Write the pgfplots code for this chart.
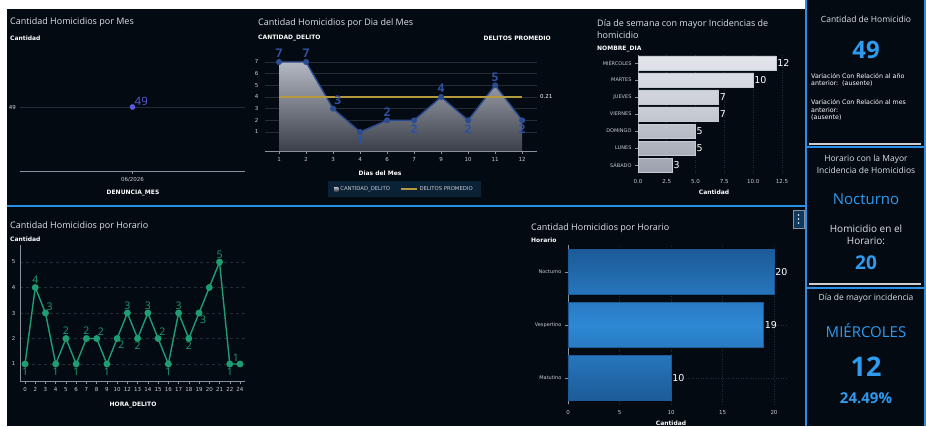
\documentclass[border=0pt]{standalone}
\usepackage{fontspec}
\usepackage{pgfplots}
\pgfplotsset{compat=1.18}
\setmainfont{Open Sans}
\newfontfamily\lbl{DejaVu Sans}
\newfontfamily\ttl{Open Sans}
\definecolor{bg}{HTML}{030A12}
\definecolor{blueline}{HTML}{2A8FE6}
\definecolor{ttlc}{HTML}{DDE2E8}
\definecolor{tickc}{HTML}{C9CDD3}
\definecolor{axc}{HTML}{8C929B}
\definecolor{gridc}{HTML}{262C35}
\definecolor{ptc}{HTML}{5B5BD9}
\definecolor{linec}{HTML}{2C4C92}
\definecolor{numc}{HTML}{2E50A0}
\definecolor{areatop}{HTML}{B3B8C3}
\definecolor{areabot}{HTML}{3A3F4A}
\definecolor{avgc}{HTML}{B49A3C}
\definecolor{legbg}{HTML}{0B2136}
\definecolor{greenc}{HTML}{1E9D72}
\definecolor{bluebar}{HTML}{2E88D4}
\definecolor{bluebard}{HTML}{1C5B98}
\definecolor{accent}{HTML}{2E9BEF}
\definecolor{silvert}{HTML}{E4E6EC}
\definecolor{silverm}{HTML}{C6CAD2}
\definecolor{silverb}{HTML}{9CA1AD}
\definecolor{sepw}{HTML}{CFCFCF}
\definecolor{menubg}{HTML}{0E3A60}
\pgfplotsset{
  dashax/.style={scale only axis, anchor=south west,
    /pgf/number format/assume math mode=true,
    tick label style={font=\lbl\fontsize{5.5}{6.5}\selectfont, text=tickc},
    axis line style={axc, line width=0.6pt},
    tick style={axc, line width=0.5pt},
    major tick length=3pt, tick align=outside,
    grid style={gridc, line width=0.5pt},
    clip=false},
}
\newcommand{\bl}{\lbl\bfseries\fontsize{6}{7}\selectfont}
\newcommand{\tf}{\ttl\fontsize{9}{10}\selectfont}
\begin{document}
\begin{tikzpicture}[x=1pt,y=1pt]
\useasboundingbox (0,0) rectangle (926,426);
\clip (0,0) rectangle (926,426);
\fill[white] (0,0) rectangle (926,426);
\fill[bg] (7,0) rectangle (926,417);
\fill[bg] (806,417) rectangle (926,426);
\draw[blueline, line width=2pt] (806,0) -- (806,426);
\draw[blueline, line width=2pt] (925,0) -- (925,426);
\draw[blueline, line width=2.5pt] (7,220) -- (806,220);
\draw[blueline, line width=2pt] (806,278.5) -- (926,278.5);
\draw[sepw, line width=1.3pt] (809,282) -- (921,282);
\draw[blueline, line width=2pt] (806,137.5) -- (926,137.5);
\draw[sepw, line width=1.3pt] (809,142) -- (921,142);

% ---------- Panel 1
\node[anchor=west, inner sep=0, text=ttlc, font=\tf] at (10,404) {Cantidad Homicidios por Mes};
\node[anchor=west, inner sep=0, text=white, font=\bl] at (10,388) {Cantidad};
\node[inner sep=0, text=white, font=\bl] at (133,233) {DENUNCIA\_MES};
\begin{axis}[dashax, at={(20pt,255pt)}, width=225pt, height=128pt,
  xmin=0, xmax=2, ymin=48, ymax=50, xtick={1}, xticklabels={06/2026}, ytick={49},
  ymajorgrids, axis x line*=bottom, axis y line*=left,
  y axis line style={draw=none}, ytick style={draw=none}, yticklabel style={xshift=2.5pt}]
\addplot[only marks, mark=*, mark size=2.6pt, color=ptc, nodes near coords, point meta=y,
  nodes near coords style={anchor=south west, font=\ttl\fontsize{11.5}{12}\selectfont, text=ptc, inner sep=1pt, xshift=1pt}]
  coordinates {(1,49)};
\end{axis}

% ---------- Panel 2
\node[anchor=west, inner sep=0, text=ttlc, font=\tf] at (258,403) {Cantidad Homicidios por Dia del Mes};
\node[anchor=west, inner sep=0, text=white, font=\bl] at (258,388) {CANTIDAD\_DELITO};
\node[anchor=east, inner sep=0, text=white, font=\bl] at (551,388) {DELITOS PROMEDIO};
\node[anchor=west, inner sep=0, text=white, font=\lbl\fontsize{5.5}{6.5}\selectfont] at (540,329) {0.21};
\node[inner sep=0, text=white, font=\bl] at (380,253) {Dias del Mes};
\begin{axis}[dashax, at={(265pt,275pt)}, width=272pt, height=96pt,
  xmin=-0.52, xmax=9.55, ymin=-0.63, ymax=7.6,
  xtick={0,...,9}, xticklabels={1,2,3,4,6,7,9,10,11,12}, ytick={1,...,7},
  ymajorgrids, axis x line*=bottom, axis y line*=left,
  y axis line style={draw=none}, ytick style={draw=none},
  legend columns=2,
  legend style={at={(0.513,-0.31)}, anchor=north, fill=legbg, draw=none, text=tickc,
    font=\lbl\fontsize{5.3}{6}\selectfont, inner xsep=6pt, inner ysep=3.5pt,
    /tikz/every even column/.append style={column sep=8pt}}]
\addplot[draw=none, top color=areatop, bottom color=areabot,
  legend image code/.code={\fill[silvert] (0pt,-2pt) rectangle (4pt,2pt);}]
  coordinates {(0,-0.63) (0,7) (1,7) (2,3) (3,1) (4,2) (5,2) (6,4) (7,2) (8,5) (9,2) (9,-0.63)};
\addlegendentry{CANTIDAD\_DELITO}
\addplot[linec, line width=1.4pt, mark=*, mark size=2.3pt, mark options={fill=linec}, forget plot]
  coordinates {(0,7) (1,7) (2,3) (3,1) (4,2) (5,2) (6,4) (7,2) (8,5) (9,2)};
\addplot[avgc, line width=1.4pt,
  legend image code/.code={\draw[avgc, line width=1.4pt] (0pt,0pt) -- (16pt,0pt);}]
  coordinates {(0,4) (9,4)};
\addlegendentry{DELITOS PROMEDIO}
\addplot[forget plot, draw=none, nodes near coords, point meta=y,
  nodes near coords style={anchor=south, font=\ttl\bfseries\fontsize{12}{13}\selectfont, text=numc, inner sep=1pt, yshift=3pt}]
  coordinates {(0,7) (1,7) (4,2) (6,4) (8,5)};
\addplot[forget plot, draw=none, nodes near coords, point meta=y,
  nodes near coords style={anchor=north, font=\ttl\bfseries\fontsize{12}{13}\selectfont, text=numc, inner sep=1pt, yshift=-3pt}]
  coordinates {(3,1) (5,2) (7,2) (9,2)};
\addplot[forget plot, draw=none, nodes near coords, point meta=y,
  nodes near coords style={anchor=south west, font=\ttl\bfseries\fontsize{12}{13}\selectfont, text=numc, inner sep=1pt, yshift=2.5pt}]
  coordinates {(2,3)};
\end{axis}

% ---------- Panel 3
\node[anchor=west, inner sep=0, text=ttlc, font=\tf] at (597,402) {Día de semana con mayor Incidencias de};
\node[anchor=west, inner sep=0, text=ttlc, font=\tf] at (597,391) {homicidio};
\node[anchor=west, inner sep=0, text=white, font=\bl] at (597,377) {NOMBRE\_DIA};
\node[inner sep=0, text=white, font=\bl] at (714,234) {Cantidad};
\begin{axis}[dashax, at={(638pt,253pt)}, width=152pt, height=118pt,
  xbar, bar width=14pt, xmin=0, xmax=13.2, ymin=-0.47, ymax=6.47,
  ytick={0,...,6}, yticklabels={SÁBADO,LUNES,DOMINGO,VIERNES,JUEVES,MARTES,MIÉRCOLES},
  yticklabel style={font=\lbl\fontsize{5}{6}\selectfont},
  xtick={0,2.5,5,7.5,10,12.5},
  xticklabel style={/pgf/number format/.cd, fixed, fixed zerofill, precision=1},
  xmajorgrids, grid style={gridc, dotted, line width=0.6pt},
  axis x line*=bottom, axis y line*=left, x axis line style={draw=none}, xtick style={draw=none},
  nodes near coords, nodes near coords style={anchor=west, font=\lbl\fontsize{9.5}{10}\selectfont, text=white, inner sep=1pt}]
\addplot[draw=silverm, line width=0.3pt, top color=silvert, bottom color=silverb, middle color=silverm]
  coordinates {(3,0) (5,1) (5,2) (7,3) (7,4) (10,5) (12,6)};
\end{axis}

% ---------- Panel 7
\node[anchor=west, inner sep=0, text=ttlc, font=\tf] at (10,200) {Cantidad Homicidios por Horario};
\node[anchor=west, inner sep=0, text=white, font=\bl] at (10,187) {Cantidad};
\node[inner sep=0, text=white, font=\bl] at (133,21) {HORA\_DELITO};
\begin{axis}[dashax, at={(20pt,45pt)}, width=225pt, height=136pt,
  xmin=-0.49, xmax=21.49, ymin=0.333, ymax=5.667,
  xtick={0,...,21}, xticklabels={0,2,3,4,5,6,7,8,9,10,12,13,14,15,16,17,18,19,20,21,22,24},
  ytick={1,...,5}, ymajorgrids, grid style={gridc, dashed, line width=0.5pt},
  axis x line*=bottom, axis y line*=left, ytick style={draw=none}, yticklabel style={xshift=2pt}]
\addplot[greenc, line width=1.4pt, mark=*, mark size=2.7pt, mark options={fill=greenc}]
  coordinates {(0,1) (1,4) (2,3) (3,1) (4,2) (5,1) (6,2) (7,2) (8,1) (9,2) (10,3) (11,2) (12,3) (13,2) (14,1) (15,3) (16,2) (17,3) (18,4) (19,5) (20,1) (21,1)};
\addplot[draw=none, nodes near coords, point meta=y,
  nodes near coords style={anchor=south, font=\ttl\fontsize{10.5}{12}\selectfont, text=greenc, inner sep=1pt, yshift=2.5pt}]
  coordinates {(1,4) (4,2) (6,2) (10,3) (12,3) (15,3) (19,5)};
\addplot[draw=none, nodes near coords, point meta=y,
  nodes near coords style={anchor=north, font=\ttl\fontsize{10.5}{12}\selectfont, text=greenc, inner sep=1pt, yshift=-2.5pt}]
  coordinates {(0,1) (3,1) (5,1) (8,1) (11,2) (14,1) (16,2) (20,1)};
\addplot[draw=none, nodes near coords, point meta=y,
  nodes near coords style={anchor=south west, font=\ttl\fontsize{10.5}{12}\selectfont, text=greenc, inner sep=1pt, yshift=1.5pt}]
  coordinates {(2,3) (7,2) (13,2)};
\addplot[draw=none, nodes near coords, point meta=y,
  nodes near coords style={anchor=north west, font=\ttl\fontsize{10.5}{12}\selectfont, text=greenc, inner sep=1pt, yshift=-1.5pt}]
  coordinates {(9,2) (17,3)};
\addplot[draw=none, nodes near coords, point meta=y,
  nodes near coords style={anchor=south east, font=\ttl\fontsize{10.5}{12}\selectfont, text=greenc, inner sep=1pt, yshift=1.5pt}]
  coordinates {(21,1)};
\end{axis}

% ---------- Panel 8
\node[anchor=west, inner sep=0, text=ttlc, font=\tf] at (531,198) {Cantidad Homicidios por Horario};
\node[anchor=west, inner sep=0, text=white, font=\bl] at (531,186) {Horario};
\node[inner sep=0, text=white, font=\bl] at (671,2.5) {Cantidad};
\begin{axis}[dashax, at={(568pt,22pt)}, width=220pt, height=159pt,
  xbar, bar width=45pt, xmin=0, xmax=21.36, ymin=-0.49, ymax=2.51,
  ytick={0,1,2}, yticklabels={Matutino,Vespertino,Nocturno},
  yticklabel style={font=\lbl\fontsize{5}{6}\selectfont},
  xtick={0,5,10,15,20},
  xmajorgrids, ymajorgrids, grid style={gridc, dotted, line width=0.6pt},
  axis x line*=bottom, axis y line*=left, x axis line style={draw=none}, xtick style={draw=none},
  nodes near coords, nodes near coords style={anchor=west, font=\lbl\fontsize{9.5}{10}\selectfont, text=white, inner sep=1pt}]
\addplot[draw=bluebard, line width=0.5pt, top color=bluebard, bottom color=bluebard, middle color=bluebar]
  coordinates {(10,0) (19,1) (20,2)};
\end{axis}
\draw[fill=menubg, draw=axc, line width=0.6pt] (793,198) rectangle (804,216);
\fill[white] (798.5,211) circle (0.9) (798.5,207) circle (0.9) (798.5,203) circle (0.9);

% ---------- Right panel
\node[font=\ttl\fontsize{8.5}{10}\selectfont, text=ttlc] at (866,407) {Cantidad de Homicidio};
\node[font=\ttl\bfseries\fontsize{24}{26}\selectfont, text=accent] at (866,376) {49};
\begin{scope}[every node/.style={anchor=west, inner sep=0, text=white, font=\lbl\fontsize{6.3}{7}\selectfont}]
\node at (811,350) {Variación Con Relación al año};
\node at (811,342) {anterior:\ \ (ausente)};
\node at (811,324) {Variación Con Relación al mes};
\node at (811,316) {anterior:};
\node at (811,308) {(ausente)};
\end{scope}
\node[font=\ttl\fontsize{8.5}{10}\selectfont, text=ttlc] at (866,267) {Horario con la Mayor};
\node[font=\ttl\fontsize{8.5}{10}\selectfont, text=ttlc] at (866,256) {Incidencia de Homicidios};
\node[font=\ttl\fontsize{15}{17}\selectfont, text=accent] at (866,227) {Nocturno};
\node[font=\ttl\fontsize{10}{12}\selectfont, text=ttlc] at (866,197) {Homicidio en el};
\node[font=\ttl\fontsize{10}{12}\selectfont, text=ttlc] at (866,185) {Horario:};
\node[font=\ttl\bfseries\fontsize{19}{21}\selectfont, text=accent] at (866,163) {20};
\node[font=\ttl\fontsize{8.5}{10}\selectfont, text=ttlc] at (866,128) {Día de mayor incidencia};
\node[font=\ttl\fontsize{15}{17}\selectfont, text=accent] at (866,95) {MIÉRCOLES};
\node[font=\ttl\bfseries\fontsize{27}{29}\selectfont, text=accent] at (866,59) {12};
\node[font=\ttl\bfseries\fontsize{15}{17}\selectfont, text=accent] at (866,28) {24.49\%};
\end{tikzpicture}
\end{document}
